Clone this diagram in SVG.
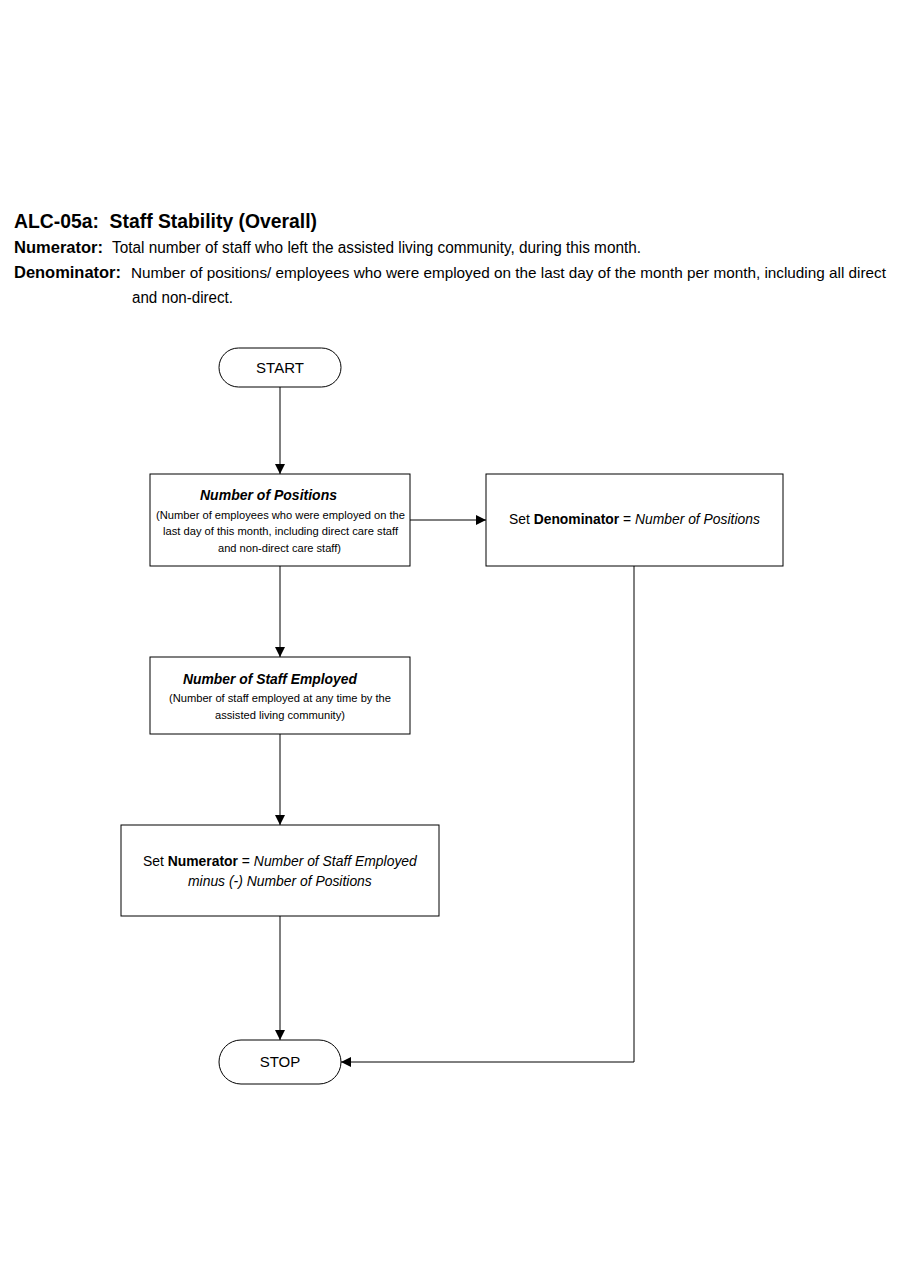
<svg xmlns="http://www.w3.org/2000/svg" width="900" height="1286" viewBox="0 0 900 1286">
<style>
text{font-family:"Liberation Sans",Arial,sans-serif;fill:#000}
.box{fill:#fff;stroke:#000;stroke-width:1}
.ln{fill:none;stroke:#000;stroke-width:1}
.b{font-weight:bold}
.i{font-style:italic}
.hd{font-size:20px;font-weight:bold}
.def{font-size:16px}
.bt{font-size:14px;font-weight:bold;font-style:italic}
.sm{font-size:11.5px}
.md{font-size:15px}
</style>
<defs>
<marker id="arr" viewBox="0 0 10 10" refX="10" refY="5" markerWidth="10" markerHeight="10" markerUnits="userSpaceOnUse" orient="auto">
<path d="M0,0 L10,5 L0,10 z" fill="#000"/>
</marker>
</defs>
<rect width="900" height="1286" fill="#fff"/>
<g id="header">
<text class="hd" x="14" y="228" textLength="303" lengthAdjust="spacingAndGlyphs" xml:space="preserve">ALC-05a:  Staff Stability (Overall)</text>
<text class="def b" x="14" y="253" textLength="89" lengthAdjust="spacingAndGlyphs">Numerator:</text>
<text class="def" x="112" y="253" textLength="529" lengthAdjust="spacingAndGlyphs">Total number of staff who left the assisted living community, during this month.</text>
<text class="def b" x="14" y="278" textLength="107" lengthAdjust="spacingAndGlyphs">Denominator:</text>
<text x="131" y="278" font-size="15" textLength="755" lengthAdjust="spacingAndGlyphs">Number of positions/ employees who were employed on the last day of the month per month, including all direct</text>
<text class="def" x="132" y="303" textLength="101" lengthAdjust="spacingAndGlyphs">and non-direct.</text>
</g>
<g id="connectors">
<line class="ln" x1="280" y1="387" x2="280" y2="474" marker-end="url(#arr)"/>
<line class="ln" x1="410" y1="520" x2="486" y2="520" marker-end="url(#arr)"/>
<line class="ln" x1="280" y1="566" x2="280" y2="657" marker-end="url(#arr)"/>
<line class="ln" x1="280" y1="734" x2="280" y2="825" marker-end="url(#arr)"/>
<line class="ln" x1="280" y1="916" x2="280" y2="1040" marker-end="url(#arr)"/>
<polyline class="ln" points="634,566 634,1062 341,1062" marker-end="url(#arr)"/>
</g>
<g id="start">
<rect class="box" x="219" y="348" width="122" height="39" rx="19.5" ry="19.5"/>
<text class="md" x="280" y="373" text-anchor="middle">START</text>
</g>
<g id="positions">
<rect class="box" x="150" y="474" width="260" height="92"/>
<text class="bt" x="200" y="500" textLength="137" lengthAdjust="spacingAndGlyphs">Number of Positions</text>
<text class="sm" x="156" y="519" textLength="249" lengthAdjust="spacingAndGlyphs">(Number of employees who were employed on the</text>
<text class="sm" x="163" y="535" textLength="235" lengthAdjust="spacingAndGlyphs">last day of this month, including direct care staff</text>
<text class="sm" x="218" y="552" textLength="123" lengthAdjust="spacingAndGlyphs">and non-direct care staff)</text>
</g>
<g id="denominator">
<rect class="box" x="486" y="474" width="297" height="92"/>
<text class="md" transform="translate(509,524) scale(0.925,1)">Set <tspan class="b">Denominator</tspan> = <tspan class="i">Number of Positions</tspan></text>
</g>
<g id="staff-employed">
<rect class="box" x="150" y="657" width="260" height="77"/>
<text class="bt" x="183" y="684" textLength="174" lengthAdjust="spacingAndGlyphs">Number of Staff Employed</text>
<text class="sm" x="169" y="702" textLength="222" lengthAdjust="spacingAndGlyphs">(Number of staff employed at any time by the</text>
<text class="sm" x="215" y="719" textLength="130" lengthAdjust="spacingAndGlyphs">assisted living community)</text>
</g>
<g id="numerator">
<rect class="box" x="121" y="825" width="318" height="91"/>
<text class="md" transform="translate(143,866) scale(0.927,1)">Set <tspan class="b">Numerator</tspan> = <tspan class="i">Number of Staff Employed</tspan></text>
<text class="md i" transform="translate(188,886) scale(0.927,1)">minus (-) Number of Positions</text>
</g>
<g id="stop">
<rect class="box" x="219" y="1040" width="122" height="44" rx="22" ry="22"/>
<text class="md" x="280" y="1067" text-anchor="middle">STOP</text>
</g>
</svg>
